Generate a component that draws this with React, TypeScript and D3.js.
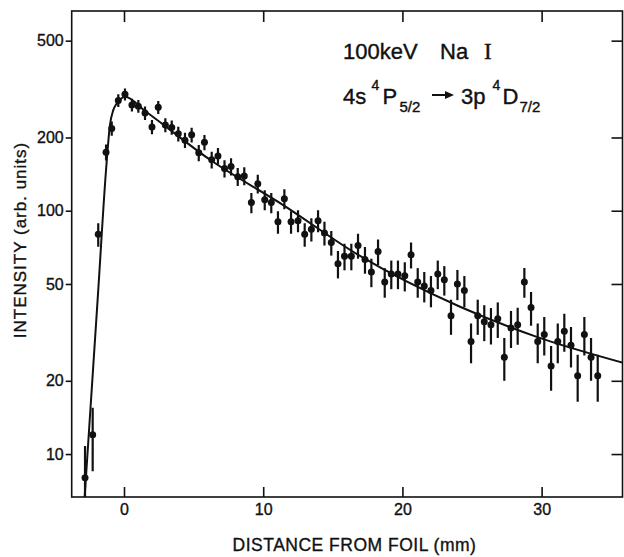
import React, { useEffect, useRef } from 'react';
import * as d3 from 'd3';

const distance = [
  -2.80, -2.25, -1.85, -1.29, -0.88, -0.41, 0.07, 0.57, 1.03, 1.51,
  2.01, 2.46, 2.97, 3.43, 3.90, 4.38, 4.86, 5.37, 5.78, 6.30,
  6.75, 7.22, 7.69, 8.17, 8.64, 9.15, 9.61, 10.11, 10.58, 11.06,
  11.52, 12.00, 12.50, 12.98, 13.46, 13.94, 14.40, 14.89, 15.37, 15.84,
  16.33, 16.81, 17.31, 17.77, 18.25, 18.73, 19.20, 19.68, 20.17, 20.62,
  21.10, 21.57, 22.05, 22.54, 23.01, 23.49, 23.95, 24.45, 24.93, 25.41,
  25.88, 26.36, 26.85, 27.32, 27.80, 28.28, 28.76, 29.24, 29.72, 30.19,
  30.68, 31.16, 31.63, 32.11, 32.59, 33.07, 33.55, 34.03
];
const intensity = [
  8.0, 12, 80, 174, 218, 284, 301, 272, 269, 252,
  221, 266, 225, 220, 207, 195, 205, 173, 191, 162,
  168, 149, 152, 138, 139, 108, 129, 111, 108, 90,
  112, 90, 91, 80, 84, 91, 81, 74, 60.5, 65,
  65, 72, 63, 56, 68, 51, 55, 55, 54, 66,
  51, 49, 47, 55, 52, 37, 50, 47, 29, 37,
  35, 34, 36, 25, 33, 34, 51, 40, 29, 31,
  23, 29, 32, 28, 21, 31, 25, 21
];
// half length of each error bar (arb. units)
const errors = [
  2.8, 3.5, 8.9, 13.2, 14.8, 16.9, 17.3, 16.5, 16.4, 15.9,
  14.9, 16.3, 15.0, 14.8, 14.4, 14.0, 14.3, 13.2, 13.8, 12.7,
  13.0, 12.2, 12.3, 11.7, 11.8, 10.4, 11.4, 10.5, 10.4, 9.5,
  10.6, 9.5, 9.5, 8.9, 9.2, 9.5, 9.0, 8.6, 7.8, 8.1,
  8.1, 8.5, 7.9, 7.5, 8.2, 7.1, 7.4, 7.4, 7.4, 8.1,
  7.1, 7.0, 6.9, 7.4, 7.2, 6.1, 7.1, 6.9, 5.4, 6.1,
  5.9, 5.8, 6.0, 5.0, 5.7, 5.9, 7.1, 6.3, 5.4, 5.6,
  4.8, 5.4, 5.7, 5.3, 4.6, 5.6, 5.0, 4.6
];

// fitted curve, sampled along the drawn line
const fitDistance = [-2.85, -1.85, -1.29, -1.01, -0.77, -0.52, -0.165, 0.07, 1.51, 6.18, 11.44, 16.83, 24.14, 29.65, 35.87];
const fitIntensity = [6.35, 47.2, 147, 225, 259, 276, 290, 294, 257, 162, 105.5, 65.8, 40.3, 30.3, 23.7];

const xTickValues = [0, 10, 20, 30];
const yTickValues = [10, 20, 50, 100, 200, 500];

const ink = '#111';
const font = '"Liberation Sans", Arial, sans-serif';

export default function App() {
    const ref = useRef<SVGSVGElement>(null);

    useEffect(() => {
        const left = 71.7, right = 622.5, top = 11, bottom = 497;

        const svg = d3.select(ref.current);
        svg.selectAll('*').remove();

        const x = d3.scaleLinear().domain([-3.757, 35.81]).range([left, right]);
        const y = d3.scaleLog().domain([6.66, 662]).range([bottom, top]);

        svg.append('rect').attr('width', 624).attr('height', 557).attr('fill', '#fff');

        svg.append('clipPath').attr('id', 'plot-clip')
            .append('rect')
            .attr('x', left).attr('y', top)
            .attr('width', right - left).attr('height', bottom - top);

        // axes: bottom/top/right ticks point inward, left ticks outward
        const styleAxis = (g: any) => {
            g.select('.domain').remove();
            g.selectAll('.tick line').attr('stroke', ink).attr('stroke-width', 1.6);
            g.selectAll('.tick text')
                .attr('fill', ink)
                .attr('stroke', ink)
                .attr('stroke-width', 0.35)
                .style('font-family', font)
                .style('font-size', '16px');
        };

        svg.append('g')
            .attr('transform', `translate(0,${bottom})`)
            .call(d3.axisBottom(x).tickValues(xTickValues).tickSize(-10).tickPadding(7).tickFormat(d3.format('d')))
            .call(styleAxis);

        svg.append('g')
            .attr('transform', `translate(0,${top})`)
            .call(d3.axisTop(x).tickValues(xTickValues).tickSize(-11).tickFormat(() => ''))
            .call(styleAxis);

        svg.append('g')
            .attr('transform', `translate(${left},0)`)
            .call(d3.axisLeft(y).tickValues(yTickValues).tickSize(6).tickPadding(2).tickFormat(d3.format('d')))
            .call(styleAxis);

        svg.append('g')
            .attr('transform', `translate(${right},0)`)
            .call(d3.axisRight(y).tickValues(yTickValues).tickSize(-11).tickFormat(() => ''))
            .call(styleAxis);

        // frame
        svg.append('rect')
            .attr('x', left).attr('y', top)
            .attr('width', right - left).attr('height', bottom - top)
            .attr('fill', 'none')
            .attr('stroke', ink)
            .attr('stroke-width', 1.6);

        const plot = svg.append('g').attr('clip-path', 'url(#plot-clip)');

        // fitted curve
        const fit = d3.range(fitDistance.length);
        plot.append('path')
            .datum(fit)
            .attr('fill', 'none')
            .attr('stroke', ink)
            .attr('stroke-width', 2)
            .attr('d', d3.line<number>()
                .x(i => x(fitDistance[i]))
                .y(i => y(fitIntensity[i]))
                .curve(d3.curveMonotoneX));

        // error bars and points
        const idx = d3.range(distance.length);
        plot.selectAll('line.err')
            .data(idx)
            .enter()
            .append('line')
            .attr('class', 'err')
            .attr('x1', i => x(distance[i]))
            .attr('x2', i => x(distance[i]))
            .attr('y1', i => y(Math.max(intensity[i] - errors[i], 1)))
            .attr('y2', i => y(intensity[i] + errors[i]))
            .attr('stroke', ink)
            .attr('stroke-width', 2.2);

        plot.selectAll('circle.pt')
            .data(idx)
            .enter()
            .append('circle')
            .attr('class', 'pt')
            .attr('cx', i => x(distance[i]))
            .attr('cy', i => y(intensity[i]))
            .attr('r', 3.5)
            .attr('fill', ink);

        // axis titles
        svg.append('text')
            .attr('x', 354.5)
            .attr('y', 551)
            .attr('text-anchor', 'middle')
            .attr('fill', ink)
            .attr('stroke', ink)
            .attr('stroke-width', 0.35)
            .style('font-family', font)
            .style('font-size', '17.5px')
            .style('letter-spacing', '0.5px')
            .text('DISTANCE FROM FOIL (mm)');

        svg.append('text')
            .attr('transform', 'translate(26,240) rotate(-90)')
            .attr('text-anchor', 'middle')
            .attr('fill', ink)
            .attr('stroke', ink)
            .attr('stroke-width', 0.35)
            .style('font-family', font)
            .style('font-size', '17px')
            .style('letter-spacing', '1px')
            .text('INTENSITY (arb. units)');

        // annotation
        const label = (tx: number, ty: number, size: number, s: string, family = font) =>
            svg.append('text')
                .attr('x', tx).attr('y', ty)
                .attr('fill', ink)
                .attr('stroke', ink)
                .attr('stroke-width', 0.4)
                .style('font-family', family)
                .style('font-size', size + 'px')
                .text(s);

        label(343, 59, 22, '100keV');
        label(440, 59, 22, 'Na');
        label(484, 59, 23, 'I', '"Liberation Serif", serif');

        label(343, 103.5, 22, '4s');
        label(371.5, 90, 14, '4');
        label(382.5, 103.5, 22, 'P');
        label(399.5, 111.5, 15, '5/2');
        label(461, 103.5, 22, '3p');
        label(492.5, 90, 14, '4');
        label(502.5, 103.5, 22, 'D');
        label(519.5, 111.5, 15, '7/2');

        svg.append('line')
            .attr('x1', 432).attr('x2', 447)
            .attr('y1', 95).attr('y2', 95)
            .attr('stroke', ink).attr('stroke-width', 2);
        svg.append('path')
            .attr('d', 'M445,91 L454,95 L445,99 Z')
            .attr('fill', ink);
    }, []);

    return (
        <svg ref={ref} width={624} height={557}
            style={{ position: 'absolute', left: 0, top: 0, display: 'block' }} />
    );
}
